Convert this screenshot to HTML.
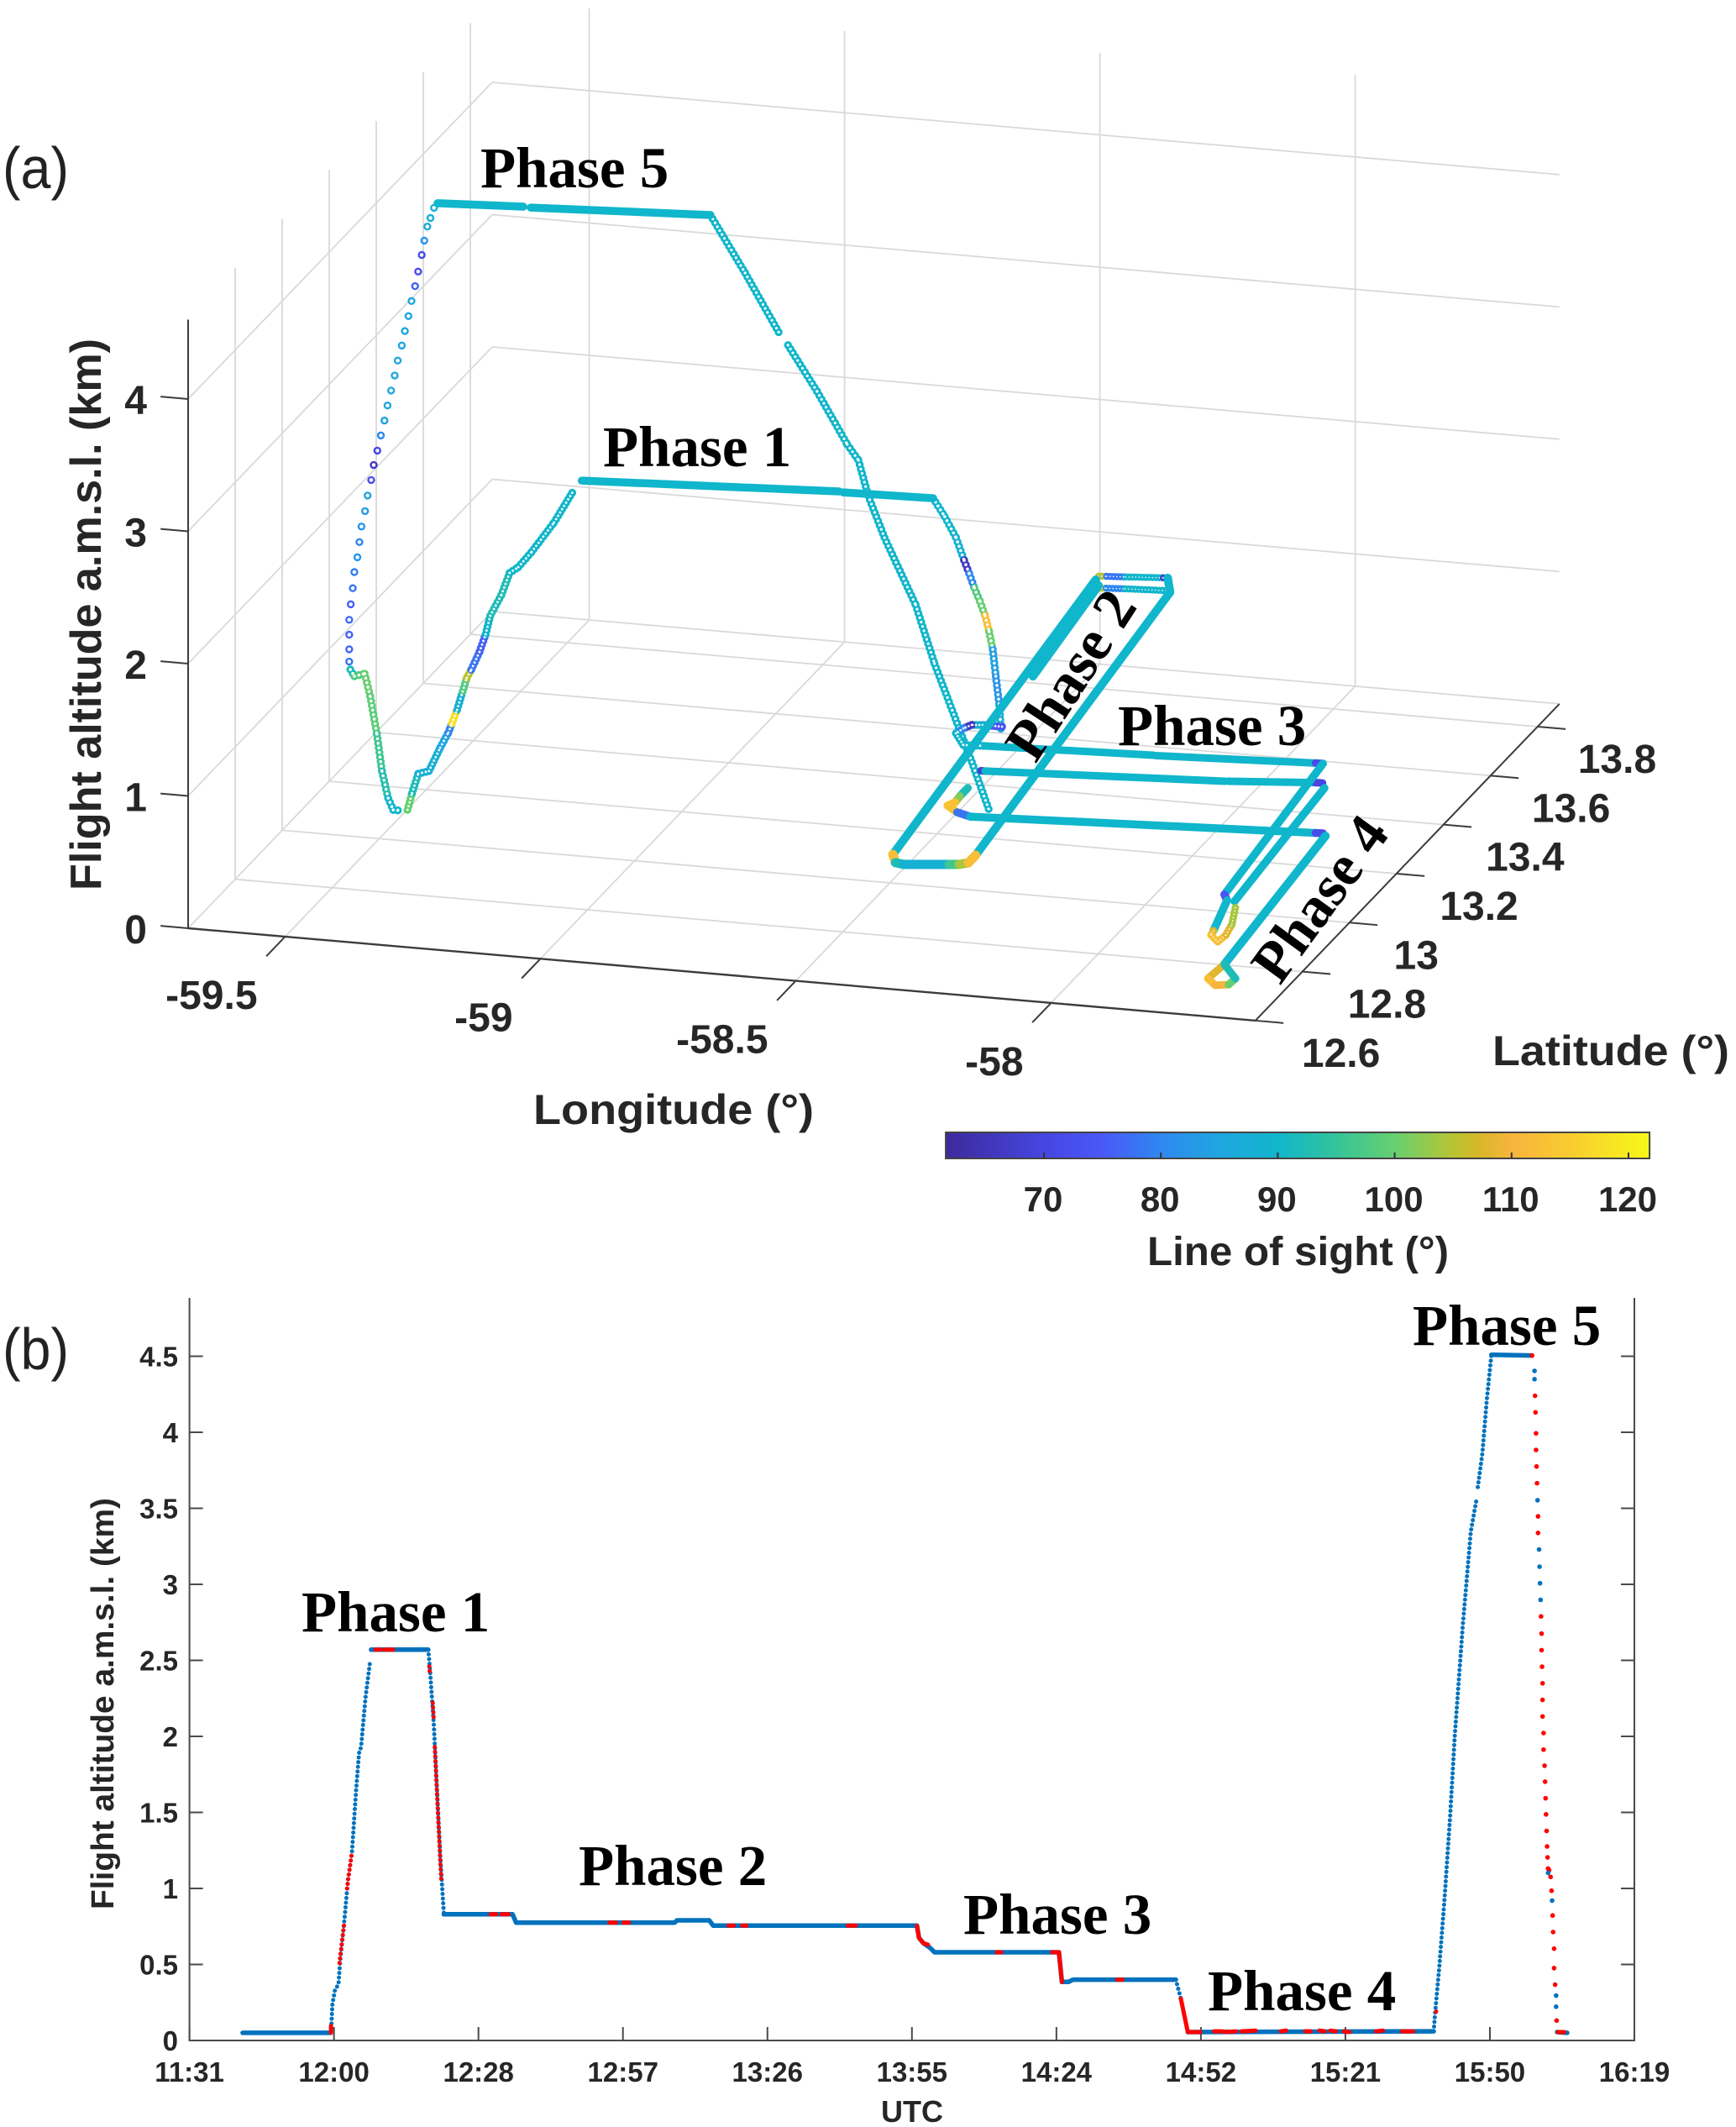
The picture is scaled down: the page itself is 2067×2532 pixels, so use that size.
<!DOCTYPE html>
<html lang="en">
<head>
<meta charset="utf-8">
<title>Flight track and altitude</title>
<style>
html,body{margin:0;padding:0;background:#fff;}
svg{display:block;}
.tick{font-family:"Liberation Sans",Arial,sans-serif;font-weight:bold;fill:#262626;}
.phase{font-family:"Liberation Serif","Times New Roman",serif;font-weight:bold;font-size:69px;fill:#000;}
.panel{font-family:"Liberation Sans",Arial,sans-serif;font-size:70px;fill:#222;}
</style>
</head>
<body>
<svg id="figure" xmlns="http://www.w3.org/2000/svg" width="2067" height="2532" viewBox="0 0 2067 2532">
<rect x="0" y="0" width="2067" height="2532" fill="#fff"/>
<defs><linearGradient id="parula" x1="0" x2="1" y1="0" y2="0"></linearGradient></defs>
<g id="panelA"></g>
<g id="colorbar"></g>
<g id="panelB"></g>

<text class="panel" x="3" y="224" textLength="79" lengthAdjust="spacingAndGlyphs">(a)</text>
<text class="panel" x="3" y="1630" textLength="79" lengthAdjust="spacingAndGlyphs">(b)</text>

<text class="tick" font-size="52" transform="translate(120 1060) rotate(-90)" textLength="657" lengthAdjust="spacingAndGlyphs">Flight altitude a.m.s.l. (km)</text>
<text class="tick" font-size="50" x="635" y="1338" textLength="334" lengthAdjust="spacingAndGlyphs">Longitude (°)</text>
<text class="tick" font-size="50" x="1777" y="1268" textLength="282" lengthAdjust="spacingAndGlyphs">Latitude (°)</text>
<text class="tick" font-size="48" x="1366" y="1506" textLength="359" lengthAdjust="spacingAndGlyphs">Line of sight (°)</text>
<text class="tick" font-size="38" transform="translate(135 2273) rotate(-90)" textLength="490" lengthAdjust="spacingAndGlyphs">Flight altitude a.m.s.l. (km)</text>
<text class="tick" font-size="36" x="1086" y="2526" text-anchor="middle">UTC</text>

<text class="phase" x="572" y="223">Phase 5</text>
<text class="phase" x="718" y="555">Phase 1</text>
<text class="phase" transform="translate(1233 910) rotate(-57)">Phase 2</text>
<text class="phase" x="1331" y="887">Phase 3</text>
<text class="phase" transform="translate(1524 1174) rotate(-54)">Phase 4</text>

<text class="phase" x="359" y="1942">Phase 1</text>
<text class="phase" x="689" y="2244">Phase 2</text>
<text class="phase" x="1147" y="2302">Phase 3</text>
<text class="phase" x="1438" y="2393">Phase 4</text>
<text class="phase" x="1682" y="1601">Phase 5</text>
</svg>

<script>
/* ---------- Panel (a) axis data ---------- */
const altTicks = [0,1,2,3,4];
const lonTicks = [-59.5,-59,-58.5,-58];
const lonTickLabels = ['-59.5','-59','-58.5','-58'];
const latTicks = [12.6,12.8,13,13.2,13.4,13.6,13.8];
const latTickLabels = ['12.6','12.8','13','13.2','13.4','13.6','13.8'];
const losTicks = [70,80,90,100,110,120];
const losTickLabels = ['70','80','90','100','110','120'];

/* ---------- Panel (a) tracks: longitude, latitude, altitude, line of sight ---------- */
const phase5FlatLon = [-59.464,-59.303,null,-59.288,-58.950];
const phase5FlatLat = [13.170,13.185,null,13.184,13.2145];
const phase5FlatAlt = [4.5,4.5,null,4.5,4.5];
const phase5FlatLos = [90,90,null,90,90];

const phase5DescentLon = [-59.614,-59.614,-59.614,-59.614,-59.611,-59.607,-59.604,-59.598,-59.594,-59.590,-59.583,-59.578,-59.571,-59.566,-59.559,-59.552,-59.545,-59.539,-59.532,-59.525,-59.519,-59.511,-59.505,-59.498,-59.492,-59.485,-59.479,-59.472,-59.467,-59.461,-59.455,-59.448,-59.441];
const phase5DescentLat = [13.12,13.12,13.12,13.12,13.12,13.12,13.12,13.12,13.12,13.12,13.12,13.12,13.12,13.12,13.12,13.12,13.12,13.12,13.12,13.12,13.12,13.12,13.12,13.12,13.12,13.12,13.12,13.12,13.12,13.12,13.12,13.12,13.12];
const phase5DescentAlt = [1.078,1.171,1.281,1.394,1.512,1.635,1.758,1.872,1.988,2.107,2.226,2.345,2.465,2.580,2.691,2.808,2.923,3.039,3.154,3.270,3.385,3.501,3.613,3.728,3.844,3.959,4.071,4.199,4.309,4.417,4.484,4.563,4.598];
const phase5DescentLos = [78,76,76,77,76,78,79,82,80,82,83,84,72,66,70,80,84,85,85,85,85,85,85,85,85,76,72,72,82,86,88,88,90];

const phase5ClimbLon = [-58.962,-58.894,-58.825,null,-58.810,-58.753,-58.694,-58.672,-58.653,-58.621,-58.560,-58.523,-58.475,-58.450,-58.416];
const phase5ClimbLat = [13.24,13.24,13.24,null,13.24,13.24,13.24,13.24,13.24,13.24,13.24,13.24,13.24,13.24,13.24];
const phase5ClimbAlt = [4.449,4.034,3.587,null,3.516,3.185,2.805,2.692,2.432,2.124,1.637,1.205,.732,.486,.130];
const phase5ClimbLos = [90,90,90,null,90,90,90,90,90,90,90,90,90,90,90];

const lowDescentLon = [-59.598,-59.590,-59.570,-59.559,-59.546,-59.536,-59.524,-59.514,-59.498];
const lowDescentLat = [13.09,13.09,13.09,13.09,13.09,13.09,13.09,13.09,13.09];
const lowDescentAlt = [1.079,1.031,1.057,.889,.608,.331,.132,.046,.046];
const lowDescentLos = [92,98,100,99,96,93,90,90,92];

const phase1ClimbLon = [-59.486,-59.477,-59.465,-59.444,-59.422,-59.406,-59.399,-59.389,-59.378,-59.370,-59.361,-59.345,-59.333,-59.324,-59.302,-59.286,-59.269,-59.243,-59.199,-59.161];
const phase1ClimbLat = [13.09,13.09,13.09,13.09,13.09,13.09,13.09,13.09,13.09,13.09,13.09,13.09,13.09,13.09,13.09,13.09,13.09,13.09,13.09,13.09];
const phase1ClimbAlt = [.056,.186,.336,.363,.547,.667,.739,.844,.987,1.092,1.158,1.297,1.434,1.577,1.743,1.914,1.963,2.086,2.324,2.577];
const phase1ClimbLos = [100,92,88,88,85,80,118,88,98,105,78,76,90,92,92,90,90,90,90,90];

const phase1FlatLon = [-59.165,-58.681,null,-58.672,-58.499];
const phase1FlatLat = [13.134,13.177,null,13.175,13.182];
const phase1FlatAlt = [2.57,2.57,null,2.57,2.57];
const phase1FlatLos = [90,90,null,90,90];

const phase1DescentLon = [-58.503,-58.480,-58.458,-58.442,-58.432,-58.422,-58.411,-58.401,-58.393,-58.386,-58.380,-58.373,-58.370];
const phase1DescentLat = [13.19,13.19,13.19,13.19,13.19,13.19,13.19,13.19,13.19,13.19,13.19,13.19,13.19];
const phase1DescentAlt = [2.555,2.423,2.272,2.105,2.008,1.903,1.805,1.700,1.582,1.451,1.250,1.030,.854];
const phase1DescentLos = [90,90,88,66,80,98,100,112,100,84,82,88,90];

const phase2LeftLon = [-58.367,-58.477];
const phase2LeftLat = [12.724,13.826];
const phase2LeftAlt = [.77,.77];
const phase2LeftLos = [90,90];

const phase2InnerLon = [-58.423,-58.462];
const phase2InnerLat = [13.441,13.805];
const phase2InnerAlt = [.77,.77];
const phase2InnerLos = [90,90];

const phase2RightLon = [-58.216,-58.321,-58.350];
const phase2RightLat = [12.748,13.803,13.856];
const phase2RightAlt = [.77,.77,.77];
const phase2RightLos = [90,90,70];

const phase2BottomLon = [-58.367,-58.348,-58.330,-58.248,-58.230,-58.216,-58.216];
const phase2BottomLat = [12.724,12.694,12.690,12.705,12.708,12.717,12.748];
const phase2BottomAlt = [.77,.77,.77,.77,.77,.77,.77];
const phase2BottomLos = [112,92,88,96,104,112,90];

const phase2TopALon = [-58.478,-58.463,-58.428,-58.358,-58.350];
const phase2TopALat = [13.840,13.842,13.846,13.855,13.856];
const phase2TopAAlt = [.77,.77,.77,.77,.77];
const phase2TopALos = [105,78,90,68,68];

const phase2TopBLon = [-58.458,-58.443,-58.408,-58.338,-58.329];
const phase2TopBLat = [13.795,13.797,13.801,13.807,13.808];
const phase2TopBAlt = [.77,.77,.77,.77,.77];
const phase2TopBLos = [105,80,90,90,90];

const phase3TurnLon = [-58.435,-58.473,-58.493,-58.502,-58.507,-58.473,-58.432];
const phase3TurnLat = [13.336,13.336,13.333,13.317,13.296,13.254,13.258];
const phase3TurnAlt = [.58,.58,.58,.58,.58,.58,.58];
const phase3TurnLos = [74,88,66,80,90,90,90];

const phase3ALon = [-58.432,-58.112,null,-58.107,-57.805,-57.791];
const phase3ALat = [13.258,13.278,null,13.277,13.301,13.302];
const phase3AAlt = [.58,.58,null,.58,.58,.58];
const phase3ALos = [90,90,null,90,72,72];

const phase3BLon = [-58.438,-58.430,-57.978,null,-57.973,-57.813,-57.799];
const phase3BLat = [13.253,13.253,13.293,null,13.294,13.317,13.318];
const phase3BAlt = [.40,.40,.40,null,.40,.40,.40];
const phase3BLos = [68,90,90,null,90,70,70];

const phase3CLon = [-58.510,-58.510,-58.508,-58.516,-58.487,-58.456,-57.803,-57.789];
const phase3CLat = [13.353,13.319,13.295,13.280,13.258,13.246,13.297,13.298];
const phase3CAlt = [.06,.06,.06,.06,.06,.06,.06,.06];
const phase3CLos = [92,102,113,113,78,90,72,72];

const phase4ALon = [-57.910,-57.861,-57.846];
const phase4ALat = [13.561,13.035,13.014];
const phase4AAlt = [.06,.06,.06];
const phase4ALos = [90,74,74];

const phase4BLon = [-57.865,-57.831];
const phase4BLat = [13.469,13.013];
const phase4BAlt = [.06,.06];
const phase4BLos = [90,90];

const phase4CLon = [-57.780,-57.740];
const phase4CLat = [13.289,12.772];
const phase4CAlt = [.06,.06];
const phase4CLos = [90,90];

const phase4StemLon = [-57.846,-57.818];
const phase4StemLat = [13.014,12.895];
const phase4StemAlt = [.06,.06];
const phase4StemLos = [90,90];

const phase4TailLon = [-57.818,-57.815,-57.791,-57.788,-57.796,-57.819];
const phase4TailLat = [12.895,12.878,12.855,12.883,12.926,12.991];
const phase4TailAlt = [.06,.06,.06,.06,.06,.06];
const phase4TailLos = [108,113,112,108,104,96];

const phase4LoopLon = [-57.740,-57.745,-57.720,-57.697,-57.695,-57.740];
const phase4LoopLat = [12.772,12.713,12.690,12.697,12.722,12.772];
const phase4LoopAlt = [.06,.06,.06,.06,.06,.06];
const phase4LoopLos = [108,112,110,100,92,92];

/* ---------- Colour map of line of sight ---------- */
const cmapValues = [61.6,70,75,80,85,90,95,100,105,107,110,115,121.8];
const cmapColors = ['#3d2a9c','#4646e0','#4a58f8','#2e88f0','#20a6e0','#10b6cb','#34c49a','#66d070','#b8c432','#d4b828','#f8b43c','#f8cc30','#f8f818'];

/* ---------- Panel (b) data: minutes after 11:31, altitude in km ---------- */
const timeTicks = [0,28.8,57.6,86.4,115.2,144,172.8,201.6,230.4,259.2,288];
const timeTickLabels = ['11:31','12:00','12:28','12:57','13:26','13:55','14:24','14:52','15:21','15:50','16:19'];
const heightTicks = [0,.5,1,1.5,2,2.5,3,3.5,4,4.5];
const heightTickLabels = ['0','0.5','1','1.5','2','2.5','3','3.5','4','4.5'];

const blueLevelTimes = [10.6,28.0,null,36.2,47.6,null,50.7,64.4,65.1,96.7,97.2,103.6,104.4,145.0,145.4,146.3,147.6,148.5,173.3,173.9,175.2,176.1,196.6,null,199.0,248.0,null,259.5,267.6,null,272.6,274.6];
const blueLevelAlts = [.05,.05,null,2.57,2.57,null,.83,.83,.775,.775,.79,.79,.755,.755,.675,.64,.61,.58,.58,.385,.385,.40,.40,null,.055,.06,null,4.51,4.505,null,.055,.05];

const redLevelTimes = [37.1,38.2,null,39.0,40.6,null,60.0,61.1,null,62.2,63.6,null,83.7,85.0,null,86.5,87.6,null,107.4,108.5,null,110.2,111.0,null,131.2,132.8,null,145.0,145.4,146.3,147.2,null,160.9,161.8,null,171.9,173.3,173.9,null,184.9,186.0,null,197.6,199.0,null,199.3,201.5,null,204.2,205.9,null,206.4,208.6,null,209.7,212.5,null,217.5,218.6,null,222.4,223.5,null,225.2,226.3,null,227.4,228.5,null,230.1,231.2,null,236.5,237.9,null,241.7,243.9,null,272.7,274.0,null,28.2,28.2];
const redLevelAlts = [2.57,2.57,null,2.57,2.57,null,.83,.83,null,.83,.83,null,.775,.775,null,.775,.775,null,.755,.755,null,.755,.755,null,.755,.755,null,.755,.675,.64,.63,null,.58,.58,null,.58,.58,.385,null,.40,.40,null,.275,.055,null,.055,.055,null,.06,.06,null,.055,.06,null,.06,.065,null,.06,.065,null,.06,.06,null,.065,.06,null,.065,.06,null,.06,.055,null,.06,.065,null,.06,.06,null,.055,.055,null,.05,.095];

const blueDotTimes = [28.2,28.5,29.0,29.7,30.1,30.9,31.6,32.4,33.2,33.8,34.2,35.1,36.0,null,47.6,47.9,48.7,50.0,50.7,null,196.6,197.6,null,248.0,248.3,249.1,250.2,251.3,252.2,253.8,255.4,256.5,null,256.8,257.7,258.6,259.5];
const blueDotAlts = [.05,.24,.33,.37,.55,.80,1.06,1.24,1.64,1.89,1.93,2.26,2.49,null,2.57,2.46,2.08,1.20,.83,null,.40,.275,null,.06,.185,.475,.95,1.49,2.0,2.73,3.35,3.55,null,3.64,3.86,4.22,4.51];

const redDotTimes = [29.9,30.9,null,31.4,32.4,null,47.8,47.9,null,48.5,48.7,null,48.9,50.2,null,248.5,248.6];
const redDotAlts = [.51,.785,null,1.0,1.24,null,2.46,2.42,null,2.22,2.11,null,1.93,1.04,null,.19,.21];

const descentTimes = [267.6,268.1,268.1,268.2,268.3,268.4,268.4,268.5,268.6,268.7,268.8,268.8,269.0,269.1,269.2,269.3,269.4,269.5,269.5,269.6,269.7,269.7,269.7,269.9,269.9,270.1,270.2,270.3,270.4,270.5,270.6,270.7,270.8,271.0,270.8,271.3,271.5,271.6,271.7,271.8,272.0,272.0,272.2,272.4,272.4,272.5];
const descentAlts = [4.505,4.404,4.349,4.240,4.131,3.993,3.884,3.775,3.665,3.553,3.447,3.338,3.229,3.116,3.007,2.898,2.789,2.676,2.567,2.458,2.349,2.240,2.131,2.022,1.913,1.807,1.702,1.593,1.487,1.378,1.276,1.204,1.131,1.120,1.102,1.076,.985,.920,.822,.713,.604,.476,.367,.295,.222,.131];
const descentIsRed = [1,0,0,1,1,1,1,1,1,0,1,1,0,0,0,0,1,1,1,1,1,1,1,1,1,1,1,1,1,1,1,1,1,1,0,1,1,0,1,1,1,1,1,0,0,1];

/* ---------- Helpers ---------- */
const NS = 'http://www.w3.org/2000/svg';
function make(tag, parent, name, props) {
  const el = document.createElementNS(NS, tag);
  for (const k in props) el.setAttribute(k, props[k]);
  
  
  parent.appendChild(el);
  return el;
}
function label(parent, name, text, x, y, size, anchor) {
  const el = make('text', parent, name, {x: x, y: y, 'font-size': size, 'text-anchor': anchor, 'class': 'tick'});
  el.textContent = text;
  return el;
}

/* ---------- 3D projection of panel (a) ---------- */
const lonMin = -59.69, lonMax = -57.6, latMin = 12.6, latMax = 13.893, altMax = 4.62;
function project(lon, lat, alt) {
  const a = lon - lonMin, b = lat - latMin;
  return [224 + 608 * a + 280 * b, 1105 + 52.6 * a - 291.6 * b - 157.5 * alt];
}
function hexToRgb(h) { return [1,3,5].map(i => parseInt(h.substr(i, 2), 16)); }
function losColor(v) {
  if (v <= cmapValues[0]) return cmapColors[0];
  for (let i = 1; i < cmapValues.length; i++) {
    if (v <= cmapValues[i]) {
      const f = (v - cmapValues[i-1]) / (cmapValues[i] - cmapValues[i-1]);
      const p = hexToRgb(cmapColors[i-1]), q = hexToRgb(cmapColors[i]);
      return 'rgb(' + p.map((c, j) => Math.round(c + (q[j] - c) * f)).join(',') + ')';
    }
  }
  return cmapColors[cmapColors.length - 1];
}
const panelA = document.getElementById('panelA');

function line3d(parent, name, p, q, stroke, width) {
  const s = project(p[0], p[1], p[2]), e = project(q[0], q[1], q[2]);
  return make('line', parent, name, {x1: s[0], y1: s[1], x2: e[0], y2: e[1], stroke: stroke, 'stroke-width': width});
}

/* grid */
const gridA = make('g', panelA, 'grid-3d', {});
const gridColor = '#d9d9d9';
for (const lon of lonTicks) {
  line3d(gridA, 'grid-floor-longitude', [lon, latMin, 0], [lon, latMax, 0], gridColor, 1.8);
  line3d(gridA, 'grid-wall-longitude', [lon, latMax, 0], [lon, latMax, altMax], gridColor, 1.8);
}
for (const lat of latTicks) {
  line3d(gridA, 'grid-floor-latitude', [lonMin, lat, 0], [lonMax, lat, 0], gridColor, 1.8);
  if (lat > latMin) line3d(gridA, 'grid-wall-latitude', [lonMin, lat, 0], [lonMin, lat, altMax], gridColor, 1.8);
}
for (const z of altTicks) {
  line3d(gridA, 'grid-wall-altitude', [lonMin, latMin, z], [lonMin, latMax, z], gridColor, 1.8);
  line3d(gridA, 'grid-back-altitude', [lonMin, latMax, z], [lonMax, latMax, z], gridColor, 1.8);
}

/* axes */
const axisColor = '#3c3c3c';
const axesA = make('g', panelA, 'axes-3d', {});
line3d(axesA, 'altitude-axis', [lonMin, latMin, 0], [lonMin, latMin, 4.6], axisColor, 2);
line3d(axesA, 'longitude-axis', [lonMin, latMin, 0], [lonMax, latMin, 0], axisColor, 2.4);
line3d(axesA, 'latitude-axis', [lonMax, latMin, 0], [lonMax, latMax, 0], axisColor, 2);
altTicks.forEach(function (z) {
  line3d(axesA, 'altitude-tick', [lonMin, latMin, z], [lonMin - 0.054, latMin, z], axisColor, 2);
  const p = project(lonMin, latMin, z);
  label(axesA, 'altitude-tick-label', String(z), p[0] - 49, p[1] + 18, 48, 'end');
});
lonTicks.forEach(function (lon, i) {
  line3d(axesA, 'longitude-tick', [lon, latMin, 0], [lon, latMin - 0.08, 0], axisColor, 2);
  const p = project(lon, latMin, 0);
  label(axesA, 'longitude-tick-label', lonTickLabels[i], p[0] - 33, p[1] + 86, 48, 'end');
});
latTicks.forEach(function (lat, i) {
  line3d(axesA, 'latitude-tick', [lonMax, lat, 0], [lonMax + 0.055, lat, 0], axisColor, 2);
  const p = project(lonMax, lat, 0);
  label(axesA, 'latitude-tick-label', latTickLabels[i], p[0] + 48 + (13.8 - lat) * 6, p[1] + 55, 48, 'start');
});

/* tracks */
const tracksA = make('g', panelA, 'flight-tracks', {});
function drawSolidTrack(name, lon, lat, alt, los, width) {
  const g = make('g', tracksA, name, {'stroke-linecap': 'round'});
  for (let i = 0; i + 1 < lon.length; i++) {
    if (lon[i] === null || lon[i + 1] === null) continue;
    line3d(g, name + '-segment', [lon[i], lat[i], alt[i]], [lon[i + 1], lat[i + 1], alt[i + 1]], losColor(los[i]), width);
  }
}
function drawRingTrack(name, lon, lat, alt, los, size, gap, hole) {
  const g = make('g', tracksA, name, {'stroke-linecap': 'round', 'stroke-dasharray': '0 ' + gap});
  for (let i = 0; i + 1 < lon.length; i++) {
    if (lon[i] === null || lon[i + 1] === null) continue;
    line3d(g, name + '-ring-segment', [lon[i], lat[i], alt[i]], [lon[i + 1], lat[i + 1], alt[i + 1]], losColor(los[i]), size);
  }
  for (let i = 0; i + 1 < lon.length; i++) {
    if (lon[i] === null || lon[i + 1] === null) continue;
    line3d(g, name + '-ring-hole', [lon[i], lat[i], alt[i]], [lon[i + 1], lat[i + 1], alt[i + 1]], '#fff', hole);
  }
}
function drawCircleTrack(name, lon, lat, alt, los) {
  const g = make('g', tracksA, name, {fill: 'none', 'stroke-width': 2.4});
  lon.forEach(function (v, i) {
    const p = project(v, lat[i], alt[i]);
    make('circle', g, name + '-marker', {cx: p[0], cy: p[1], r: 3.5, stroke: losColor(los[i])});
  });
}
drawCircleTrack('phase-5-descent', phase5DescentLon, phase5DescentLat, phase5DescentAlt, phase5DescentLos);
drawRingTrack('phase-5-climb', phase5ClimbLon, phase5ClimbLat, phase5ClimbAlt, phase5ClimbLos, 9.5, 5.4, 3.2);
drawRingTrack('final-descent', lowDescentLon, lowDescentLat, lowDescentAlt, lowDescentLos, 9.5, 5.5, 3.6);
drawRingTrack('phase-1-climb', phase1ClimbLon, phase1ClimbLat, phase1ClimbAlt, phase1ClimbLos, 9.5, 4.6, 2.8);
drawRingTrack('phase-1-descent', phase1DescentLon, phase1DescentLat, phase1DescentAlt, phase1DescentLos, 9.5, 5.5, 3.6);
drawSolidTrack('phase-5-level', phase5FlatLon, phase5FlatLat, phase5FlatAlt, phase5FlatLos, 9.5);
drawSolidTrack('phase-1-level', phase1FlatLon, phase1FlatLat, phase1FlatAlt, phase1FlatLos, 9.5);
drawRingTrack('phase-3-turn', phase3TurnLon, phase3TurnLat, phase3TurnAlt, phase3TurnLos, 9.5, 4, 2.6);
drawSolidTrack('phase-3-leg-a', phase3ALon, phase3ALat, phase3AAlt, phase3ALos, 9);
drawSolidTrack('phase-3-leg-b', phase3BLon, phase3BLat, phase3BAlt, phase3BLos, 9);
drawSolidTrack('phase-3-leg-c', phase3CLon, phase3CLat, phase3CAlt, phase3CLos, 9.5);
drawSolidTrack('phase-4-leg-a', phase4ALon, phase4ALat, phase4AAlt, phase4ALos, 9.5);
drawSolidTrack('phase-4-leg-b', phase4BLon, phase4BLat, phase4BAlt, phase4BLos, 9.5);
drawSolidTrack('phase-4-leg-c', phase4CLon, phase4CLat, phase4CAlt, phase4CLos, 10);
drawSolidTrack('phase-4-stem', phase4StemLon, phase4StemLat, phase4StemAlt, phase4StemLos, 9.5);
drawRingTrack('phase-4-tail', phase4TailLon, phase4TailLat, phase4TailAlt, phase4TailLos, 9, 4, 1.8);
drawSolidTrack('phase-4-loop', phase4LoopLon, phase4LoopLat, phase4LoopAlt, phase4LoopLos, 9);
drawRingTrack('phase-2-top-a', phase2TopALon, phase2TopALat, phase2TopAAlt, phase2TopALos, 8.5, 4, 1.6);
drawRingTrack('phase-2-top-b', phase2TopBLon, phase2TopBLat, phase2TopBAlt, phase2TopBLos, 8.5, 4, 1.6);
drawSolidTrack('phase-2-left-leg', phase2LeftLon, phase2LeftLat, phase2LeftAlt, phase2LeftLos, 10);
drawSolidTrack('phase-2-left-inner-leg', phase2InnerLon, phase2InnerLat, phase2InnerAlt, phase2InnerLos, 10);
drawSolidTrack('phase-2-right-leg', phase2RightLon, phase2RightLat, phase2RightAlt, phase2RightLos, 10);
drawSolidTrack('phase-2-bottom-leg', phase2BottomLon, phase2BottomLat, phase2BottomAlt, phase2BottomLos, 11);

/* ---------- Colour bar ---------- */
const cbar = document.getElementById('colorbar');
const grad = document.getElementById('parula');
cmapValues.forEach(function (v, i) {
  const stop = document.createElementNS(NS, 'stop');
  stop.setAttribute('offset', (v - cmapValues[0]) / (cmapValues[cmapValues.length - 1] - cmapValues[0]));
  stop.setAttribute('stop-color', cmapColors[i]);
  
  
  grad.appendChild(stop);
});
function losX(v) { return 1243 + 13.92 * (v - 70); }
make('rect', cbar, 'colorbar-ramp', {x: losX(cmapValues[0]), y: 1348, width: losX(cmapValues[cmapValues.length - 1]) - losX(cmapValues[0]), height: 31, fill: 'url(#parula)', stroke: '#444', 'stroke-width': 2});
losTicks.forEach(function (v, i) {
  make('line', cbar, 'colorbar-tick', {x1: losX(v), x2: losX(v), y1: 1379, y2: 1372, stroke: '#333', 'stroke-width': 2});
  label(cbar, 'colorbar-tick-label', losTickLabels[i], losX(v) - 1, 1442, 42, 'middle');
});

/* ---------- Panel (b) ---------- */
const panelB = document.getElementById('panelB');
const plotLeft = 225.6, plotRight = 1946, plotTop = 1545, plotBottom = 2429;
function xScale(t) { return plotLeft + (plotRight - plotLeft) * t / 288; }
function yScale(a) { return plotBottom - 181 * a; }
const axisB = make('g', panelB, 'axes-2d', {stroke: '#4a4a4a', 'stroke-width': 2, fill: 'none'});
make('path', axisB, 'axis-frame', {d: 'M' + plotLeft + ' ' + plotTop + 'V' + plotBottom + 'H' + plotRight + 'V' + plotTop});
heightTicks.forEach(function (v, i) {
  const y = yScale(v);
  make('line', axisB, 'altitude-tick-left', {x1: plotLeft, x2: plotLeft + 16, y1: y, y2: y});
  make('line', axisB, 'altitude-tick-right', {x1: plotRight, x2: plotRight - 16, y1: y, y2: y});
  label(panelB, 'altitude-tick-label', heightTickLabels[i], 212, y + 12, 33, 'end');
});
timeTicks.forEach(function (v, i) {
  const x = xScale(v);
  make('line', axisB, 'time-tick', {x1: x, x2: x, y1: plotBottom, y2: plotBottom - 16});
  label(panelB, 'time-tick-label', timeTickLabels[i], x, 2478, 33, 'middle');
});
function pointString(times, alts) {
  const groups = [[]];
  times.forEach(function (t, i) {
    if (t === null) groups.push([]);
    else groups[groups.length - 1].push(xScale(t).toFixed(1) + ' ' + yScale(alts[i]).toFixed(1));
  });
  return 'M' + groups.filter(g => g.length).map(g => g.join('L')).join('M');
}
const blue = '#0072BD', red = '#FF0000';
make('path', panelB, 'altitude-level-blue', {d: pointString(blueLevelTimes, blueLevelAlts), fill: 'none', stroke: blue, 'stroke-width': 5.5, 'stroke-linecap': 'round', 'stroke-linejoin': 'round'});
make('path', panelB, 'altitude-climb-blue', {d: pointString(blueDotTimes, blueDotAlts), fill: 'none', stroke: blue, 'stroke-width': 5, 'stroke-linecap': 'round', 'stroke-dasharray': '0 5.6'});
make('path', panelB, 'altitude-level-red', {d: pointString(redLevelTimes, redLevelAlts), fill: 'none', stroke: red, 'stroke-width': 5, 'stroke-linecap': 'round', 'stroke-linejoin': 'round'});
make('path', panelB, 'altitude-climb-red', {d: pointString(redDotTimes, redDotAlts), fill: 'none', stroke: red, 'stroke-width': 5, 'stroke-linecap': 'round', 'stroke-dasharray': '0 5.6'});
const descentG = make('g', panelB, 'final-descent-dots', {});
descentTimes.forEach(function (t, i) {
  make('circle', descentG, 'final-descent-dot', {cx: xScale(t), cy: yScale(descentAlts[i]), r: 2.8, fill: descentIsRed[i] ? red : blue});
});
</script>
</body>
</html>
